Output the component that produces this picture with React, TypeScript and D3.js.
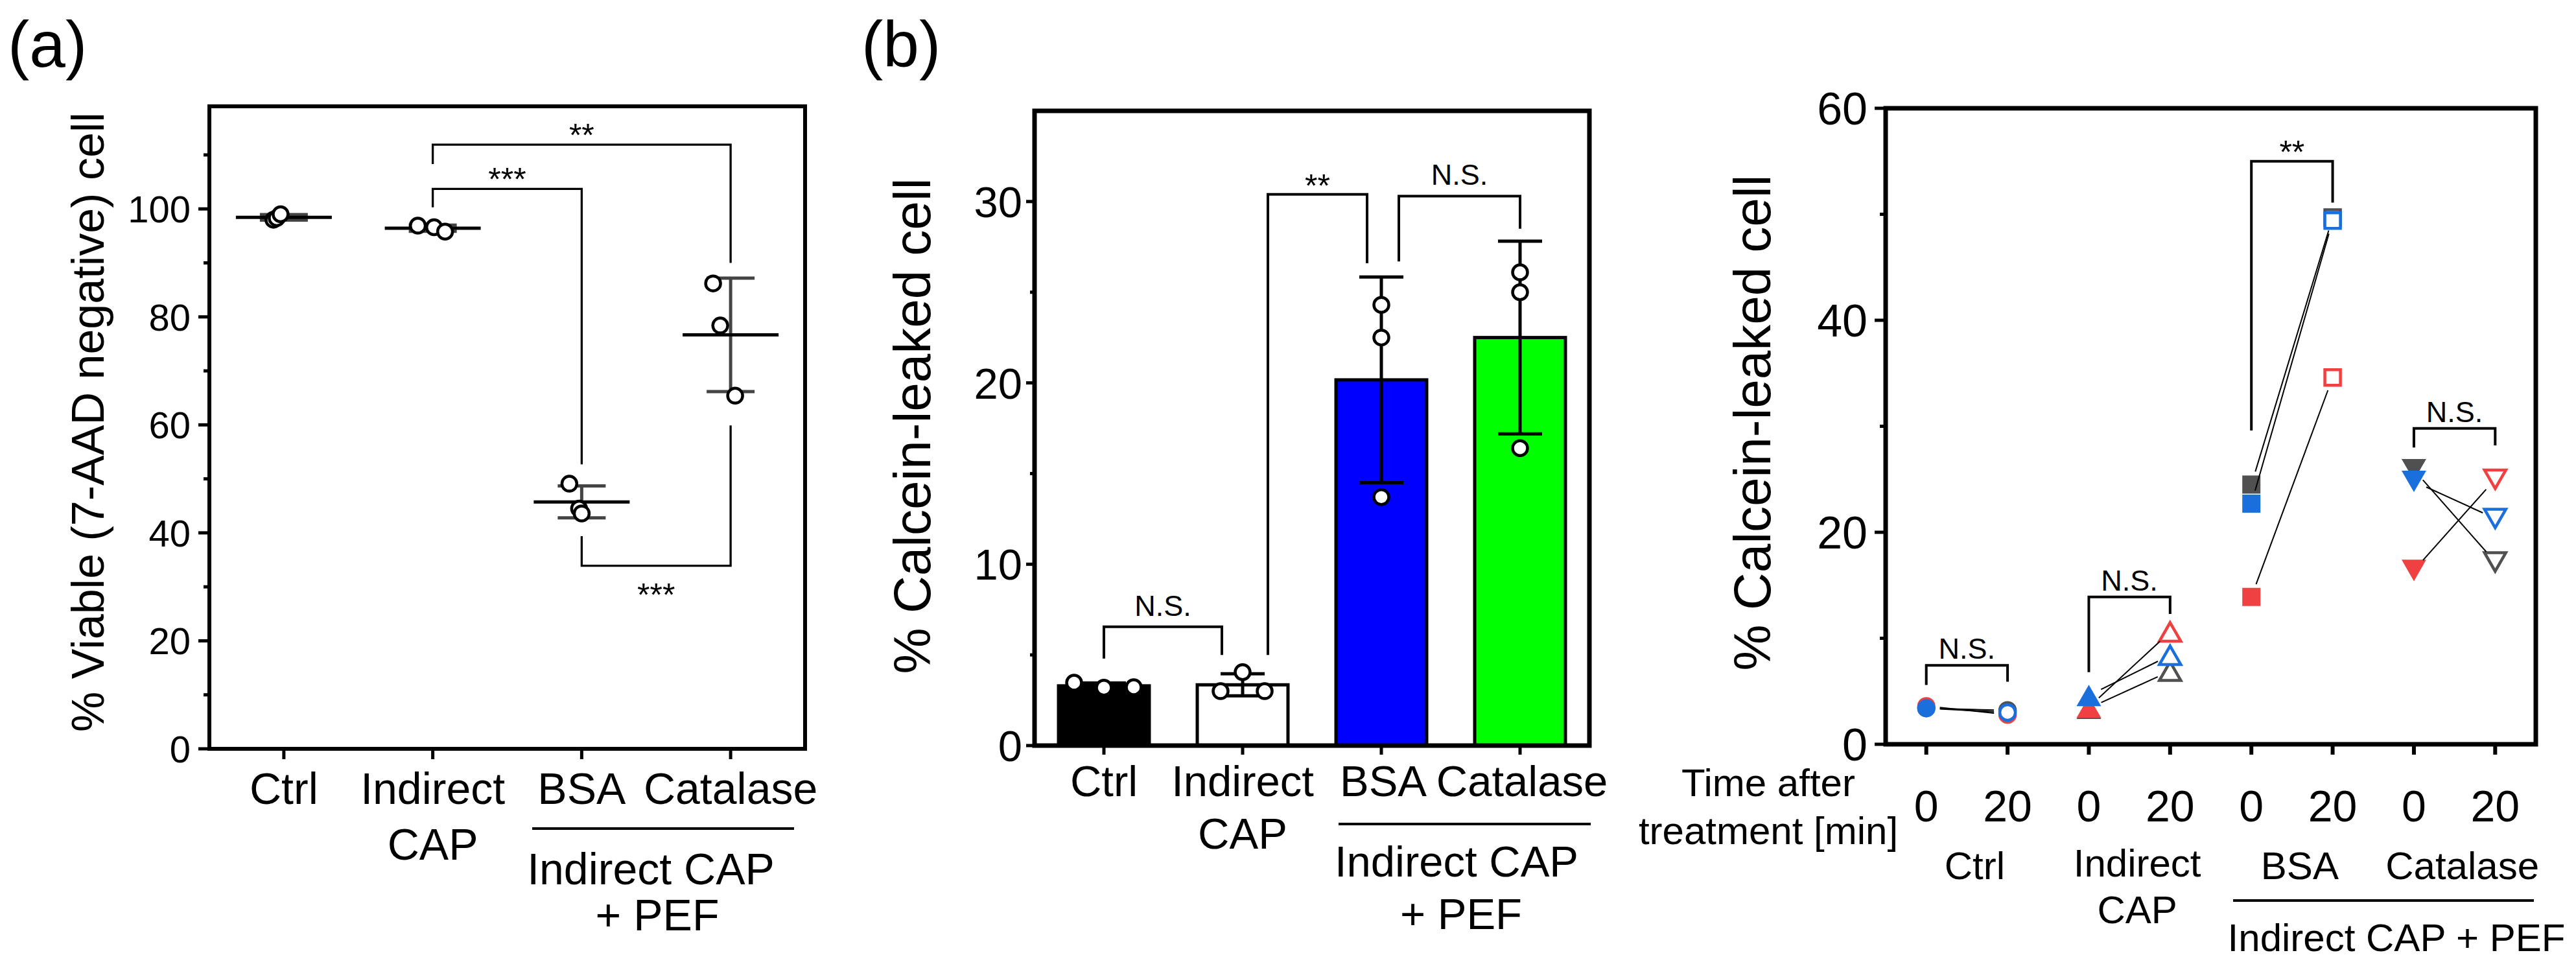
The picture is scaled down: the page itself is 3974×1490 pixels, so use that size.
import React from 'react';
import * as d3 from 'd3';

const FONT = "'Liberation Sans', Arial, Helvetica, sans-serif";

// ---------- (a) viability (7-AAD negative), three replicates per group
const viabCategories = ['Ctrl', 'Indirect CAP', 'BSA', 'Catalase'];
const viabCtrl = [98.0, 98.3, 99.0];
const viabIndirectCAP = [96.9, 96.6, 95.8];
const viabBSA = [49.1, 44.5, 43.6];
const viabCatalase = [86.2, 78.4, 65.4];
const viabTicks = [0, 20, 40, 60, 80, 100];
const viabMinorTicks = [10, 30, 50, 70, 90, 110];
const viabBrackets = [
  { from: 'Indirect CAP', to: 'BSA', top: 103.7, left: 100.3, right: 52.7, label: '***', below: false },
  { from: 'Indirect CAP', to: 'Catalase', top: 111.9, left: 108.3, right: 90.0, label: '**', below: false },
  { from: 'BSA', to: 'Catalase', top: 33.9, left: 39.4, right: 59.9, label: '***', below: true },
];

// ---------- (b) calcein-leaked cells
const leakCategories = ['Ctrl', 'Indirect CAP', 'BSA', 'Catalase'];
const leakCtrl = [3.47, 3.19, 3.22];
const leakIndirectCAP = [3.0, 4.05, 3.0];
const leakBSA = [24.3, 22.5, 13.7];
const leakCatalase = [26.1, 25.0, 16.4];
const leakTicks = [0, 10, 20, 30];
const leakMinorTicks = [5, 15, 25];
const leakBrackets = [
  { from: 'Ctrl', to: 'Indirect CAP', top: 6.55, left: 4.8, right: 5.0, label: 'N.S.' },
  { from: 'Indirect CAP', to: 'BSA', top: 30.4, left: 5.0, right: 26.6, label: '**' },
  { from: 'BSA', to: 'Catalase', top: 30.3, left: 26.7, right: 28.5, label: 'N.S.' },
];

// ---------- (c) calcein-leaked cells, 0 vs 20 min, paired replicates
const timeGroups = ['Ctrl', 'Indirect CAP', 'BSA', 'Catalase'];
const timePoints = ['0', '20'];
const rep1At0 = [3.4, 3.4, 24.5, 25.9];
const rep1At20 = [3.2, 6.9, 49.7, 17.2];
const rep2At0 = [3.4, 4.6, 22.7, 24.8];
const rep2At20 = [3.0, 8.4, 49.4, 21.3];
const rep3At0 = [3.6, 3.5, 13.9, 16.4];
const rep3At20 = [2.8, 10.6, 34.6, 25.0];
const timeTicks = [0, 20, 40, 60];
const timeMinorTicks = [10, 30, 50];
const timeBrackets = [
  { group: 'Ctrl', top: 7.45, left: 5.6, right: 5.9, label: 'N.S.' },
  { group: 'Indirect CAP', top: 13.9, left: 6.8, right: 12.3, label: 'N.S.' },
  { group: 'BSA', top: 55.0, left: 29.6, right: 51.1, label: '**' },
  { group: 'Catalase', top: 29.8, left: 28.0, right: 28.2, label: 'N.S.' },
];

// layout-only offsets (px) of the scattered dots, as placed in the figure
const viabJitter = [[-16, -11, -5], [-23, 2, 19], [-19, -4, 0], [-27, -16, 7]];
const leakJitter = [[-46, 0, 46], [-34, 0, 34], [0, 0, 0], [0, 0, 0]];
const leakLegDx = [[0, -32], [39, -22], [27, 0]];
const leakFill = ['#000000', '#ffffff', '#0000ff', '#00ff00'];

const GRAY = '#505050';
const BLUE = '#1b6fdc';
const RED = '#ef4141';

const triUp = {
  draw(ctx: any, size: number) {
    const w = Math.sqrt(size), h = w * 0.87;
    ctx.moveTo(0, -h / 2); ctx.lineTo(w / 2, h / 2); ctx.lineTo(-w / 2, h / 2); ctx.closePath();
  },
};
const triDown = {
  draw(ctx: any, size: number) {
    const w = Math.sqrt(size), h = w * 0.87;
    ctx.moveTo(0, h / 2); ctx.lineTo(w / 2, -h / 2); ctx.lineTo(-w / 2, -h / 2); ctx.closePath();
  },
};

const T = ({ x, y, size, anchor = 'middle', children, ...rest }: any) => (
  <text x={x} y={y} fontSize={size} textAnchor={anchor} fontFamily={FONT} fill="#000" {...rest}>{children}</text>
);

// left axis ticks + labels (outward), frame drawn separately
const YAxis = ({ y, x0, ticks, minor, len, minorLen, sw, labelX, size }: any) => (
  <g>
    {ticks.map((t: number) => (
      <line key={'M' + t} x1={x0 - len} x2={x0} y1={y(t)} y2={y(t)} stroke="#000" strokeWidth={sw} />
    ))}
    {minor.map((t: number) => (
      <line key={'m' + t} x1={x0 - minorLen} x2={x0} y1={y(t)} y2={y(t)} stroke="#000" strokeWidth={sw} />
    ))}
    {ticks.map((t: number) => (
      <T key={'l' + t} x={labelX} y={y(t)} dy="0.36em" size={size} anchor="end">{t}</T>
    ))}
  </g>
);

function ViabilityPanel() {
  const x = d3.scalePoint<string>().domain(viabCategories).range([323, 1242]).padding(0.5);
  const y = d3.scaleLinear().domain([0, 119]).range([1155, 164]);
  const series = [viabCtrl, viabIndirectCAP, viabBSA, viabCatalase];
  const [x0, x1] = x.range();
  const [yb, yt] = y.range();
  return (
    <g>
      <T x={12} y={103} size={100} anchor="start">(a)</T>
      {series.map((vals, i) => {
        const cx = x(viabCategories[i])!;
        const m = d3.mean(vals)!;
        const sd = d3.deviation(vals)!;
        return (
          <g key={i}>
            <line x1={cx} x2={cx} y1={y(m - sd)} y2={y(m + sd)} stroke="#444" strokeWidth={5} />
            <line x1={cx - 37} x2={cx + 37} y1={y(m + sd)} y2={y(m + sd)} stroke="#444" strokeWidth={5} />
            <line x1={cx - 37} x2={cx + 37} y1={y(m - sd)} y2={y(m - sd)} stroke="#444" strokeWidth={5} />
            <line x1={cx - 74} x2={cx + 74} y1={y(m)} y2={y(m)} stroke="#000" strokeWidth={5} />
            {vals.map((v, j) => (
              <circle key={j} cx={cx + viabJitter[i][j]} cy={y(v)} r={11.5} fill="#fff" stroke="#000" strokeWidth={4.5} />
            ))}
          </g>
        );
      })}
      {viabBrackets.map((b, i) => {
        const xa = x(b.from)!, xb = x(b.to)!;
        const yl = y(b.top);
        return (
          <g key={i}>
            <path d={`M${xa},${y(b.left)}V${yl}H${xb}V${y(b.right)}`} fill="none" stroke="#000" strokeWidth={3.3} />
            <T x={(xa + xb) / 2} y={b.below ? yl + 62 : yl + 3} size={50}>{b.label}</T>
          </g>
        );
      })}
      <rect x={x0} y={yt} width={x1 - x0} height={yb - yt} fill="none" stroke="#000" strokeWidth={6} />
      <YAxis y={y} x0={x0} ticks={viabTicks} minor={viabMinorTicks} len={17} minorLen={9} sw={5} labelX={294} size={58} />
      {viabCategories.map((c) => (
        <line key={c} x1={x(c)} x2={x(c)} y1={yb} y2={yb + 16} stroke="#000" strokeWidth={5} />
      ))}
      {viabCategories.map((c) => (
        c.split(' ').map((w, k) => (
          <T key={c + k} x={x(c)} y={1240 + k * 86} size={68}>{w}</T>
        ))
      ))}
      <line x1={821} x2={1225} y1={1278} y2={1278} stroke="#000" strokeWidth={4} />
      <T x={1004} y={1364} size={68}>Indirect CAP</T>
      <T x={1014} y={1435} size={68}>+ PEF</T>
      <T x={0} y={0} size={70} transform="translate(160,651) rotate(-90)">% Viable (7-AAD negative) cell</T>
    </g>
  );
}

function LeakagePanel() {
  const x = d3.scalePoint<string>().domain(leakCategories).range([1596, 2452]).padding(0.5);
  const band = d3.scaleBand<string>().domain(leakCategories).range([1596, 2452]).paddingInner(0.346).paddingOuter(0.173);
  const y = d3.scaleLinear().domain([0, 35]).range([1150, 171]);
  const series = [leakCtrl, leakIndirectCAP, leakBSA, leakCatalase];
  const [x0, x1] = x.range();
  const [yb, yt] = y.range();
  return (
    <g>
      <T x={1329} y={103} size={100} anchor="start">(b)</T>
      {series.map((vals, i) => {
        const c = leakCategories[i];
        const m = d3.mean(vals)!;
        return (
          <rect key={c} x={band(c)} y={y(m)} width={band.bandwidth()} height={yb - y(m)}
            fill={leakFill[i]} stroke="#000" strokeWidth={5} />
        );
      })}
      {series.map((vals, i) => {
        const cx = x(leakCategories[i])!;
        const m = d3.mean(vals)!;
        const sd = d3.deviation(vals)!;
        return (
          <g key={i}>
            <line x1={cx} x2={cx} y1={y(m - sd)} y2={y(m + sd)} stroke="#000" strokeWidth={5} />
            <line x1={cx - 34} x2={cx + 34} y1={y(m + sd)} y2={y(m + sd)} stroke="#000" strokeWidth={5} />
            <line x1={cx - 34} x2={cx + 34} y1={y(m - sd)} y2={y(m - sd)} stroke="#000" strokeWidth={5} />
            {vals.map((v, j) => (
              <circle key={j} cx={cx + leakJitter[i][j]} cy={y(v)} r={11.5} fill="#fff" stroke="#000" strokeWidth={4.5} />
            ))}
          </g>
        );
      })}
      {leakBrackets.map((b, i) => {
        const xa = x(b.from)! + leakLegDx[i][0];
        const xb = x(b.to)! + leakLegDx[i][1];
        const yl = y(b.top);
        const star = b.label.startsWith('*');
        return (
          <g key={i}>
            <path d={`M${xa},${y(b.left)}V${yl}H${xb}V${y(b.right)}`} fill="none" stroke="#000" strokeWidth={4} />
            <T x={(xa + xb) / 2} y={star ? yl + 4 : yl - 17} size={star ? 50 : 45}>{b.label}</T>
          </g>
        );
      })}
      <rect x={x0} y={yt} width={x1 - x0} height={yb - yt} fill="none" stroke="#000" strokeWidth={7} />
      <YAxis y={y} x0={x0} ticks={leakTicks} minor={leakMinorTicks} len={13} minorLen={7} sw={5} labelX={1577} size={67} />
      {leakCategories.map((c) => (
        <line key={c} x1={x(c)} x2={x(c)} y1={yb} y2={yb + 14} stroke="#000" strokeWidth={5} />
      ))}
      {leakCategories.map((c) => (
        c.split(' ').map((w, k) => (
          <T key={c + k} x={x(c)! + (k === 0 && c !== 'Ctrl' && c !== 'Indirect CAP' ? 3 : 0)} y={1228 + k * 81} size={67}>{w}</T>
        ))
      ))}
      <line x1={2065} x2={2454} y1={1271} y2={1271} stroke="#000" strokeWidth={4} />
      <T x={2247} y={1352} size={67}>Indirect CAP</T>
      <T x={2254} y={1433} size={67}>+ PEF</T>
      <T x={0} y={0} size={80} transform="translate(1435,657) rotate(-90)">% Calcein-leaked cell</T>
    </g>
  );
}

function TimePanel() {
  const keys = timeGroups.flatMap((g) => timePoints.map((t) => `${g}|${t}`));
  const x = d3.scalePoint<string>().domain(keys).range([2909, 3912]).padding(0.5);
  const y = d3.scaleLinear().domain([0, 60]).range([1148, 167]);
  const [x0, x1] = x.range();
  const [yb, yt] = y.range();
  const shapes = [d3.symbolCircle, triUp, d3.symbolSquare, triDown];
  const filledSize = [Math.PI * 14 * 14, 38 * 38, 28 * 28, 38 * 38];
  const openSize = [Math.PI * 12 * 12, 33 * 33, 24 * 24, 33 * 33];
  // drawing order: gray, red, blue on top
  const reps = [
    { at0: rep1At0, at20: rep1At20, color: GRAY },
    { at0: rep3At0, at20: rep3At20, color: RED },
    { at0: rep2At0, at20: rep2At20, color: BLUE },
  ];
  const trim = 21;
  return (
    <g>
      {reps.map((r, ri) => timeGroups.map((g, gi) => {
        const filled = d3.symbol(shapes[gi] as any, filledSize[gi])()!;
        const open = d3.symbol(shapes[gi] as any, openSize[gi])()!;
        return (
          <g key={`${ri}-${gi}`}>
            <path d={filled} transform={`translate(${x(`${g}|0`)},${y(r.at0[gi])})`} fill={r.color} />
            <path d={open} transform={`translate(${x(`${g}|20`)},${y(r.at20[gi])})`} fill="#fff" stroke={r.color} strokeWidth={4.5} />
          </g>
        );
      }))}
      {reps.map((r, ri) => timeGroups.map((g, gi) => {
        const ax = x(`${g}|0`)!, ay = y(r.at0[gi]);
        const bx = x(`${g}|20`)!, by = y(r.at20[gi]);
        const L = Math.hypot(bx - ax, by - ay);
        const ux = (bx - ax) / L, uy = (by - ay) / L;
        return (
          <line key={`l${ri}-${gi}`} x1={ax + ux * trim} y1={ay + uy * trim} x2={bx - ux * trim} y2={by - uy * trim}
            stroke="#000" strokeWidth={2} />
        );
      }))}
      {timeBrackets.map((b, i) => {
        const xa = x(`${b.group}|0`)!, xb = x(`${b.group}|20`)!;
        const yl = y(b.top);
        const star = b.label.startsWith('*');
        return (
          <g key={i}>
            <path d={`M${xa},${y(b.left)}V${yl}H${xb}V${y(b.right)}`} fill="none" stroke="#000" strokeWidth={4} />
            <T x={(xa + xb) / 2} y={star ? yl + 3 : yl - 10} size={star ? 50 : 45}>{b.label}</T>
          </g>
        );
      })}
      <rect x={x0} y={yt} width={x1 - x0} height={yb - yt} fill="none" stroke="#000" strokeWidth={7} />
      <YAxis y={y} x0={x0} ticks={timeTicks} minor={timeMinorTicks} len={17} minorLen={9} sw={5} labelX={2881} size={70} />
      {keys.map((k) => (
        <g key={k}>
          <line x1={x(k)} x2={x(k)} y1={yb} y2={yb + 16} stroke="#000" strokeWidth={6} />
          <T x={x(k)} y={1267} size={68}>{k.split('|')[1]}</T>
        </g>
      ))}
      {timeGroups.map((g) => {
        const cx = (x(`${g}|0`)! + x(`${g}|20`)!) / 2 + 12;
        return g.split(' ').map((w, k) => (
          <T key={g + k} x={cx} y={(g === 'Indirect CAP' ? 1352 : 1356) + k * 72} size={60}>{w}</T>
        ));
      })}
      <T x={2728} y={1228} size={60}>Time after</T>
      <T x={2728} y={1302} size={60}>treatment [min]</T>
      <line x1={3445} x2={3909} y1={1389} y2={1389} stroke="#000" strokeWidth={4} />
      <T x={3697} y={1467} size={60}>Indirect CAP + PEF</T>
      <T x={0} y={0} size={80} transform="translate(2731,652) rotate(-90)">% Calcein-leaked cell</T>
    </g>
  );
}

export default function App() {
  return (
    <svg width={3974} height={1490} viewBox="0 0 3974 1490"
      style={{ position: 'absolute', left: 0, top: 0, display: 'block', background: '#fff' }}>
      <rect x={0} y={0} width={3974} height={1490} fill="#fff" />
      <ViabilityPanel />
      <LeakagePanel />
      <TimePanel />
    </svg>
  );
}
